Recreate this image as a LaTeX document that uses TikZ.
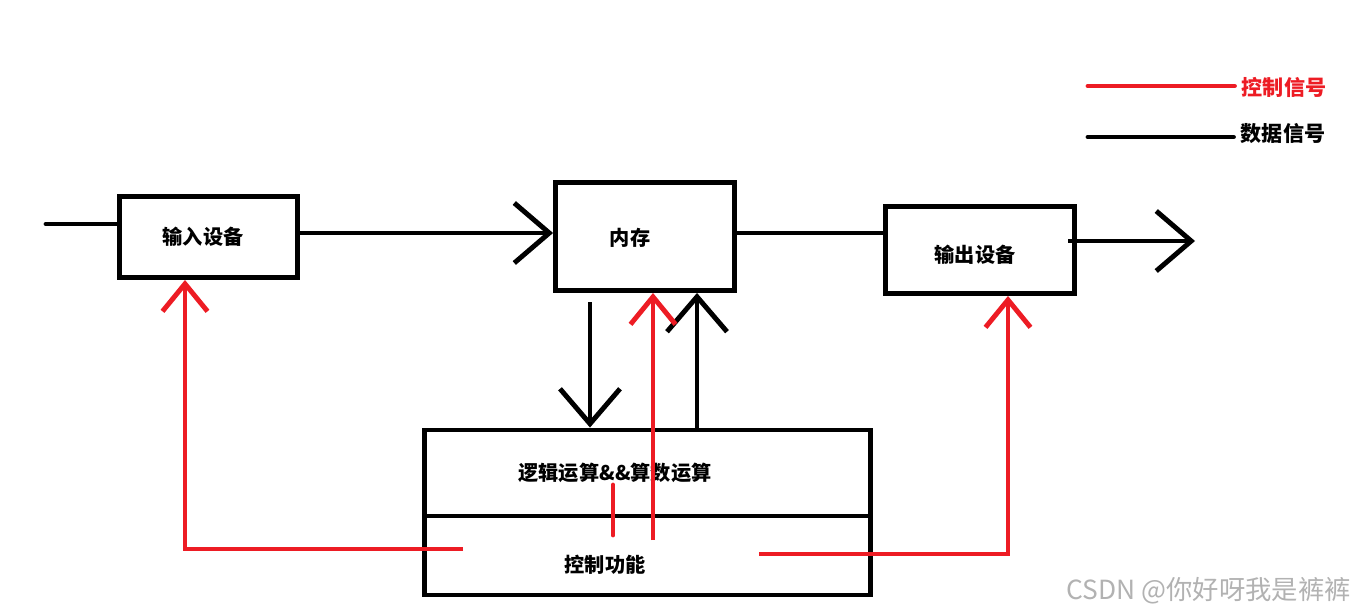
\documentclass[tikz,border=0pt]{standalone}
\usepackage{fontspec}
\newfontfamily\cjk{Noto Sans CJK SC}
\usepackage{tikz}
\usetikzlibrary{arrows.meta,positioning}

\definecolor{sigred}{HTML}{ED1C24}

\begin{document}
\begin{tikzpicture}[x=0.02cm,y=-0.02cm,
  unit/.style={draw,rectangle,line width=2.8pt,inner sep=0pt},
  txt/.style={font=\cjk\bfseries\fontsize{11.5}{13}\selectfont,inner sep=2pt},
  legtxt/.style={font=\cjk\bfseries\fontsize{12}{14}\selectfont,inner sep=4pt},
  data/.style={line width=2.8pt,black},
  ctrl/.style={line width=2.8pt,sigred},
  bigtip/.style={-{Straight Barb[length=7mm,width=12mm]}},
  redtip/.style={-{Straight Barb[length=5.5mm,width=9mm]}}
]
\useasboundingbox (0,0) rectangle (1361,613);

% Units
\node[unit,minimum width=3.56cm,minimum height=1.62cm] (inbox) at (208.5,237) {};
\node[unit,minimum width=3.58cm,minimum height=2.16cm] (mem) at (645,236.5) {};
\node[unit,minimum width=3.78cm,minimum height=1.74cm] (outbox) at (980,250) {};
\node[unit,minimum width=8.92cm,minimum height=1.72cm] (alu) at (647.5,473) {};
\node[unit,minimum width=8.92cm,minimum height=1.58cm] (ctl) at (647.5,555.5) {};

% Texts
\node[txt] (intxt) at (203,237) {输入设备};
\node[txt] (memtxt) at (630,238) {内存};
\node[txt] (outtxt) at (975,255) {输出设备};
\node[txt] (alutxt) at (615,473) {逻辑运算\&\&算数运算};
\node[txt] (ctltxt) at (605,565) {控制功能};

% Free ends
\coordinate (src) at (46,224);
\coordinate (sink) at (1195,241);
\coordinate (dn) at (590,302);
\coordinate (cup) at (653,540);
\coordinate (cmark) at (613,485);
\coordinate (cleft) at (463,549);
\coordinate (cright) at (759,554);

% Data paths
\draw[data,line cap=round] (src) -- (src -| inbox.west);
\draw[data,bigtip] (inbox.east |- 0,233) -- (mem.west |- 0,233);
\draw[data] (mem.east |- 0,233) -- (outbox.west |- 0,233);
\draw[data,bigtip] (sink -| 1068,0) -- (sink);
\draw[data,bigtip] (dn) -- (dn |- alu.north);
\draw[data,bigtip] (alu.north -| 697,0) -- (mem.south -| 697,0);

% Control paths
\draw[ctrl,redtip] (cup) -- (cup |- mem.south);
\draw[ctrl,line cap=round] (cmark) -- (cmark |- 0,535);
\draw[ctrl,redtip] (cleft) -| ([xshift=-0.47cm]inbox.south);
\draw[ctrl,redtip] (cright) -| ([xshift=0.56cm]outbox.south);

% Legend
\node[legtxt,text=sigred] (lgctrl) at (1284,87) {控制信号};
\node[legtxt] (lgdata) at (1283,134) {数据信号};
\draw[ctrl,line cap=round] (1088,86) -- (lgctrl.west |- 0,86);
\draw[data,line cap=round] (1088,137) -- (lgdata.west |- 0,137);

% Watermark
\node[font=\cjk\fontsize{15}{17}\selectfont,text=black!30,anchor=east] (mark) at (1357,591) {CSDN @你好呀我是裤裤};

\end{tikzpicture}
\end{document}
